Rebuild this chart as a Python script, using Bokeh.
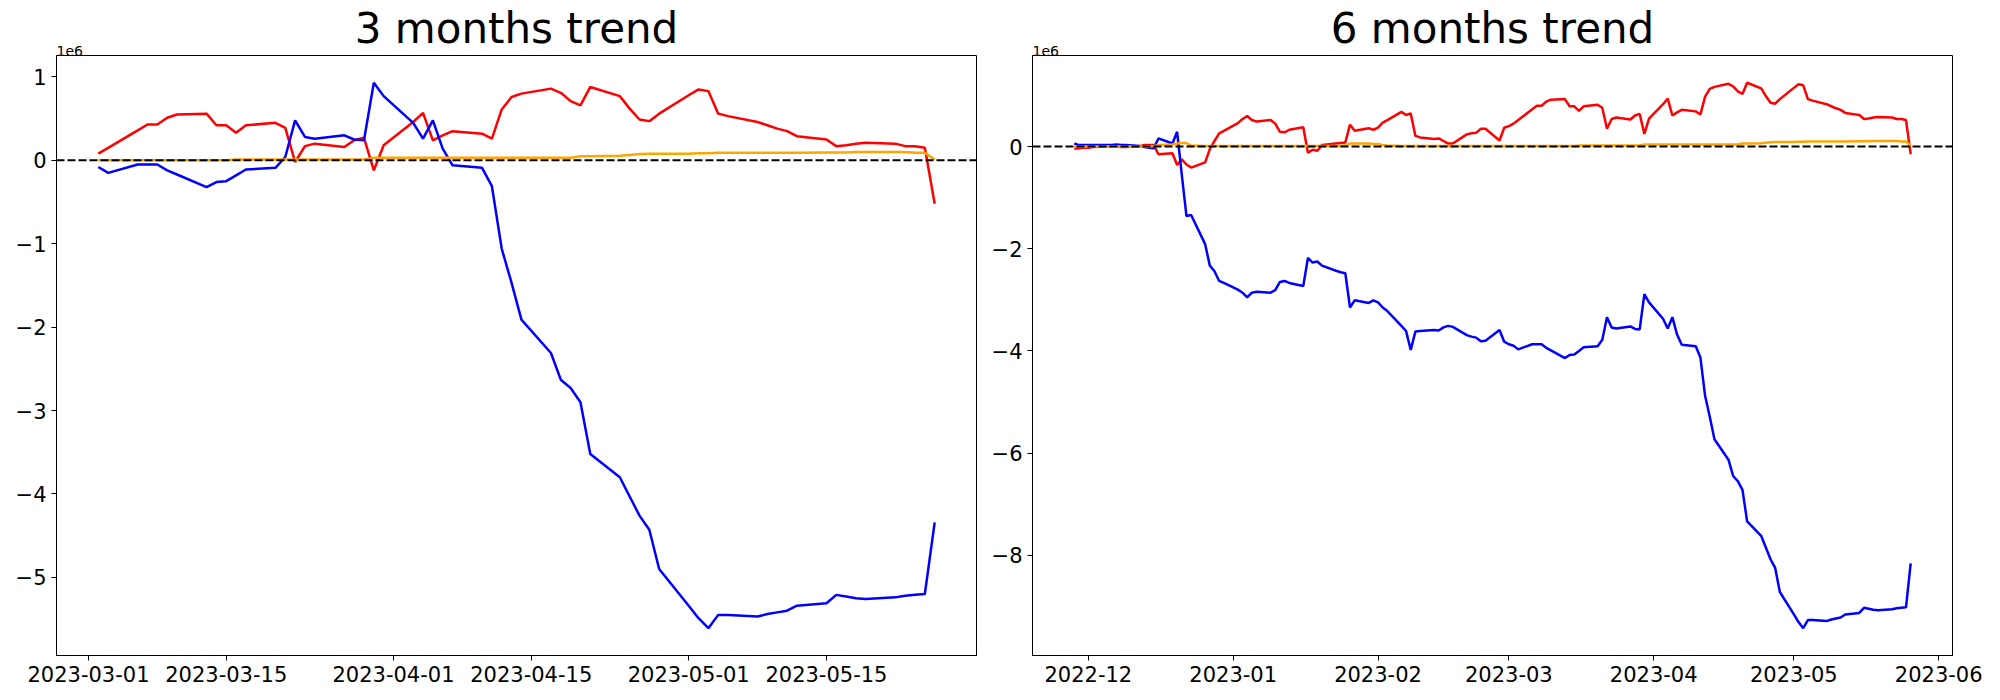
import numpy as np
import pandas as pd
from bokeh.plotting import figure
from bokeh.layouts import row
from bokeh.models import (ColumnDataSource, Range1d, FixedTicker, DatetimeTickFormatter,
                          CustomJSTickFormatter, Title, Span)
from bokeh.embed import file_html
from bokeh.resources import INLINE

# ---------------- data (values in units of 1e6) ----------------
# 3 months window: business days 2023-03-02 .. 2023-05-26
dates_3m = pd.bdate_range("2023-03-02", "2023-05-26")
red_3m = [
    0.08, 0.15, 0.36, 0.43, 0.43, 0.51, 0.55, 0.56, 0.42, 0.42,
    0.33, 0.42, 0.45, 0.39, -0.02, 0.17, 0.20, 0.16, 0.24, 0.27,
    -0.12, 0.18,
    0.46, 0.57, 0.24, 0.30, 0.35, 0.32, 0.26, 0.61, 0.76, 0.80,
    0.86, 0.81, 0.71, 0.66, 0.88, 0.77, 0.62, 0.49, 0.47, 0.56,
    0.78, 0.85, 0.83, 0.56, 0.53, 0.46, 0.42, 0.38, 0.35, 0.29,
    0.25, 0.17, 0.18, 0.20, 0.21, 0.20, 0.17, 0.17, 0.15, -0.52,
]
blue_3m = [
    -0.08, -0.15, -0.05, -0.05, -0.05, -0.12, -0.17, -0.32, -0.26, -0.25,
    -0.18, -0.11, -0.09, 0.04, 0.48, 0.28, 0.26, 0.30, 0.25, 0.24,
    0.93, 0.77,
    0.45, 0.26, 0.48, 0.14, -0.06, -0.09, -0.31, -1.06, -1.47, -1.91,
    -2.31, -2.63, -2.73, -2.90, -3.52, -3.80, -4.03, -4.26, -4.43, -4.90,
    -5.34, -5.49, -5.61, -5.45, -5.45, -5.47, -5.44, -5.42, -5.40, -5.34,
    -5.31, -5.21, -5.23, -5.25, -5.26, -5.24, -5.22, -5.21, -5.20, -4.34,
]
orange_3m = [
    0.0, 0.0, 0.0, 0.0, 0.0, 0.0, 0.0, 0.0, 0.0, 0.0,
    0.01, 0.01, 0.01, 0.01, 0.01, 0.01, 0.01, 0.01, 0.01, 0.01,
    0.03, 0.03,
    0.03, 0.03, 0.03, 0.03, 0.03, 0.03, 0.03, 0.03, 0.03, 0.03,
    0.03, 0.03, 0.03, 0.05, 0.05, 0.055, 0.065, 0.075, 0.08, 0.08,
    0.08, 0.085, 0.085, 0.09, 0.09, 0.09, 0.09, 0.09, 0.09, 0.09,
    0.095, 0.095, 0.095, 0.10, 0.10, 0.10, 0.10, 0.09, 0.09, 0.01,
]

# 6 months window: business days 2022-11-28 .. 2023-05-26
dates_6m = pd.bdate_range("2022-11-28", "2023-05-26")
red_6m = [
    -0.04, -0.03, -0.02,
    -0.02, -0.01, 0.00, 0.01, 0.01, -0.01, -0.01, 0.01, 0.03, 0.03, 0.03,
    -0.15, -0.13, -0.36, -0.25, -0.35, -0.41, -0.31, -0.05, 0.11, 0.26, 0.31,
    0.46, 0.54, 0.60, 0.52, 0.49, 0.52, 0.45, 0.29, 0.28, 0.33,
    0.38, -0.12, -0.06, -0.08, 0.03, 0.06, 0.07, 0.08, 0.43, 0.31, 0.36, 0.33,
    0.37, 0.47, 0.52, 0.68, 0.62, 0.65, 0.21, 0.18, 0.15, 0.16,
    0.11, 0.06, 0.06, 0.24, 0.26, 0.27, 0.35, 0.35, 0.12, 0.37,
    0.40,
    0.45, 0.52, 0.73, 0.80, 0.80, 0.88, 0.92, 0.93, 0.79, 0.79,
    0.70, 0.79, 0.82, 0.76, 0.35, 0.54, 0.57, 0.53, 0.61, 0.64, 0.25, 0.55,
    0.83, 0.94, 0.61, 0.67, 0.72, 0.69, 0.63, 0.98, 1.13, 1.17,
    1.23, 1.18, 1.08, 1.03, 1.25, 1.14, 0.99, 0.86, 0.84, 0.93,
    1.15, 1.22, 1.20, 0.93, 0.90, 0.83, 0.79, 0.75, 0.72, 0.66,
    0.62, 0.54, 0.55, 0.57, 0.58, 0.57, 0.54, 0.54, 0.52, -0.15,
]
blue_6m = [
    0.06, 0.03, 0.03,
    0.03, 0.03, 0.03, 0.03, 0.04, 0.03, 0.03, 0.01, -0.01, -0.02, -0.03,
    0.16, 0.06, 0.29, -0.55, -1.36, -1.34, -1.91, -2.33, -2.44, -2.63, -2.67,
    -2.80, -2.86, -2.95, -2.86, -2.84, -2.86, -2.81, -2.65, -2.63, -2.67,
    -2.73, -2.18, -2.27, -2.25, -2.33, -2.43, -2.46, -2.48, -3.15, -3.01, -3.06, -3.01,
    -3.05, -3.15, -3.22, -3.51, -3.61, -3.98, -3.62, -3.61, -3.59, -3.60,
    -3.54, -3.51, -3.53, -3.69, -3.72, -3.74, -3.81, -3.80, -3.59, -3.82,
    -3.87,
    -3.90, -3.97, -3.87, -3.87, -3.87, -3.94, -3.99, -4.14, -4.08, -4.07,
    -4.00, -3.93, -3.91, -3.78, -3.34, -3.54, -3.56, -3.52, -3.57, -3.58, -2.89, -3.05,
    -3.37, -3.56, -3.34, -3.68, -3.88, -3.91, -4.13, -4.88, -5.29, -5.73,
    -6.13, -6.45, -6.55, -6.72, -7.34, -7.62, -7.85, -8.08, -8.25, -8.72,
    -9.16, -9.31, -9.43, -9.27, -9.27, -9.29, -9.26, -9.24, -9.22, -9.16,
    -9.13, -9.03, -9.05, -9.07, -9.08, -9.06, -9.04, -9.03, -9.02, -8.16,
]
orange_6m = [
    0.0, 0.0, 0.0,
    0.0, 0.0, 0.0, 0.0, 0.0, 0.0, 0.0, 0.0, 0.0, 0.0, 0.01,
    0.03, 0.04, 0.06, 0.07, 0.07, 0.02, 0.01, 0.01, 0.01, 0.01, 0.01,
    0.01, 0.01, 0.01, 0.01, 0.01, 0.01, 0.01, 0.01, 0.01, 0.01,
    0.01, 0.01, 0.01, 0.01, 0.01, 0.01, 0.01, 0.02, 0.06, 0.06, 0.06, 0.05,
    0.05, 0.03, 0.02, 0.01, 0.01, 0.01, 0.01, 0.01, 0.01, 0.01,
    0.01, 0.01, 0.01, 0.01, 0.01, 0.01, 0.01, 0.01, 0.01, 0.01,
    0.01,
    0.01, 0.01, 0.01, 0.01, 0.01, 0.01, 0.01, 0.01, 0.01, 0.01,
    0.02, 0.02, 0.02, 0.02, 0.02, 0.02, 0.02, 0.02, 0.02, 0.02, 0.04, 0.04,
    0.04, 0.04, 0.04, 0.04, 0.04, 0.04, 0.04, 0.04, 0.04, 0.04,
    0.04, 0.04, 0.04, 0.06, 0.06, 0.065, 0.075, 0.085, 0.09, 0.09,
    0.09, 0.095, 0.095, 0.10, 0.10, 0.10, 0.10, 0.10, 0.10, 0.10,
    0.105, 0.105, 0.105, 0.11, 0.11, 0.11, 0.11, 0.10, 0.10, 0.02,
]

titles = ["3 months trend", "6 months trend"]
xticks_3m = ["2023-03-01", "2023-03-15", "2023-04-01", "2023-04-15", "2023-05-01", "2023-05-15"]
xticks_6m = ["2022-12-01", "2023-01-01", "2023-02-01", "2023-03-01", "2023-04-01", "2023-05-01", "2023-06-01"]
yticks_3m = [-5, -4, -3, -2, -1, 0, 1]
yticks_6m = [-8, -6, -4, -2, 0]
offset_text = "1e6"

FONT = "DejaVu Sans"
FRAME_W, FRAME_H = 920, 600
TOP, BOTTOM = 55, 40
LW = 2.5


def to_ms(d):
    return pd.to_datetime(pd.Index(d)).values.astype("datetime64[ms]").astype(np.int64).astype(float)


def build(dates, red, blue, orange, xticks, xfmt, yticks, title, bl, br):
    xs = to_ms(dates)
    x0, x1 = xs.min(), xs.max()
    xpad = 0.05 * (x1 - x0)
    allv = np.concatenate([red, blue, orange])
    y0, y1 = allv.min(), allv.max()
    ypad = 0.05 * (y1 - y0)
    p = figure(width=bl + FRAME_W + br, height=TOP + FRAME_H + BOTTOM,
               x_range=Range1d(x0 - xpad, x1 + xpad), y_range=Range1d(y0 - ypad, y1 + ypad),
               x_axis_type="datetime", output_backend="svg", toolbar_location=None,
               min_border_left=bl, min_border_right=br, min_border_top=TOP,
               min_border_bottom=BOTTOM)
    src = ColumnDataSource(dict(x=xs, red=red, blue=blue, orange=orange))
    p.line("x", "red", source=src, line_color="#ff0000", line_width=LW)
    p.line("x", "blue", source=src, line_color="#0000ff", line_width=LW)
    p.line("x", "orange", source=src, line_color="#ffa500", line_width=LW)
    p.add_layout(Span(location=0, dimension="width", line_color="black",
                      line_dash="8 3", line_width=2))

    p.xaxis.ticker = FixedTicker(ticks=list(to_ms(xticks)))
    p.xaxis.formatter = DatetimeTickFormatter(
        microseconds=xfmt, milliseconds=xfmt, seconds=xfmt, minsec=xfmt, minutes=xfmt,
        hourmin=xfmt, hours=xfmt, days=xfmt, months=xfmt, years=xfmt)
    p.yaxis.ticker = FixedTicker(ticks=yticks)
    p.yaxis.formatter = CustomJSTickFormatter(
        code="return (tick < 0 ? '\\u2212' : '') + Math.abs(tick).toString();")
    for ax in (p.xaxis, p.yaxis):
        ax.axis_line_color = "black"
        ax.axis_line_width = 1
        ax.major_tick_line_color = "black"
        ax.major_tick_line_width = 1
        ax.major_tick_out = 5
        ax.major_tick_in = 0
        ax.minor_tick_line_color = None
        ax.major_label_text_font = FONT
        ax.major_label_text_font_size = "21px"
        ax.major_label_text_color = "black"
        ax.major_label_standoff = 5
    p.xgrid.visible = False
    p.ygrid.visible = False
    p.outline_line_color = "black"
    p.outline_line_width = 1
    p.outline_line_alpha = 1.0

    p.title.text = title
    p.title.align = "center"
    p.title.text_font = FONT
    p.title.text_font_size = "42px"
    p.title.text_font_style = "normal"
    p.title.text_color = "black"
    p.title.standoff = -19
    p.add_layout(Title(text=offset_text, align="left", text_font=FONT,
                       text_font_size="14px", text_font_style="normal",
                       text_color="black", standoff=0), "above")
    return p


p1 = build(dates_3m, red_3m, blue_3m, orange_3m, xticks_3m, "%Y-%m-%d", yticks_3m, titles[0], 56, 12)
p2 = build(dates_6m, red_6m, blue_6m, orange_6m, xticks_6m, "%Y-%m", yticks_6m, titles[1], 44, 40)

layout = row(p1, p2)
open("out.html", "w").write(file_html(layout, INLINE))
